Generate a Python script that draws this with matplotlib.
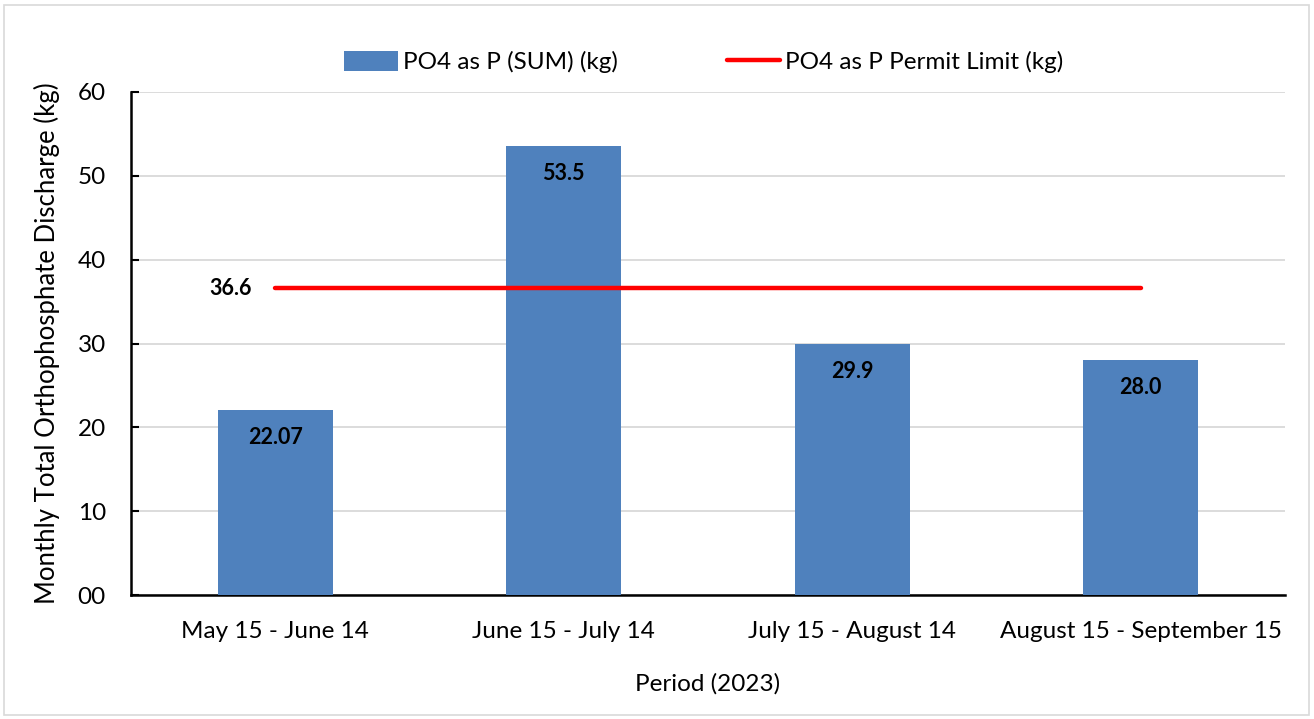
import matplotlib
matplotlib.use("Agg")
import matplotlib.pyplot as plt
from matplotlib.patches import Rectangle
from matplotlib.lines import Line2D
from matplotlib.patches import Patch

# Data
periods = ["May 15 - June 14", "June 15 - July 14", "July 15 - August 14", "August 15 - September 15"]
po4_sum = [22.07, 53.5, 29.9, 28.0]
po4_labels = ["22.07", "53.5", "29.9", "28.0"]
permit_limit = [36.6, 36.6, 36.6, 36.6]
y_ticks = [0, 10, 20, 30, 40, 50, 60]
y_tick_labels = ["00", "10", "20", "30", "40", "50", "60"]

plt.rcParams["font.family"] = ["Lato", "DejaVu Sans"]

W, H, DPI = 1314, 719, 100
fig = plt.figure(figsize=(W / DPI, H / DPI), dpi=DPI)
fig.patch.set_facecolor("white")
fig.add_artist(Rectangle((4 / W, 4 / H), (W - 9) / W, (H - 9) / H, transform=fig.transFigure,
                         fill=False, edgecolor="#d9d9d9", linewidth=1.2))

ax = fig.add_axes([131 / W, 1 - 595 / H, (1285 - 131) / W, (595 - 92) / H])
x = list(range(len(periods)))
bar_color = "#4f81bd"
ax.bar(x, po4_sum, width=0.4, color=bar_color, zorder=3)
ax.plot(x, permit_limit, color="#ff0000", linewidth=3.2, solid_capstyle="round", zorder=4)

for xi, v, lab in zip(x, po4_sum, po4_labels):
    ax.annotate(lab, (xi, v), xytext=(0, -12), textcoords="offset points",
                ha="center", va="top", fontsize=15.5, fontweight="bold", color="black", zorder=5)
ax.annotate("36.6", (x[0], permit_limit[0]), xytext=(-17, 0), textcoords="offset points",
            ha="right", va="center", fontsize=15.5, fontweight="bold", color="black", zorder=5)

ax.set_xlim(-0.5, len(periods) - 0.5)
ax.set_ylim(0, 60)
ax.set_yticks(y_ticks)
ax.set_yticklabels(y_tick_labels, fontsize=17.5)
ax.set_xticks(x)
ax.set_xticklabels(periods, fontsize=17.5)
ax.tick_params(axis="x", length=0, pad=19)
ax.tick_params(axis="y", length=6, width=1.5, direction="in", pad=18)
ax.grid(axis="y", color="#d9d9d9", linewidth=1.3, zorder=0)
for s in ["top", "right"]:
    ax.spines[s].set_visible(False)
for s in ["left", "bottom"]:
    ax.spines[s].set_linewidth(1.8)
    ax.spines[s].set_color("black")

ax.set_ylabel("Monthly Total Orthophosphate Discharge (kg)", fontsize=18.5, labelpad=13)
ax.set_xlabel("Period (2023)", fontsize=17.5, labelpad=22)

handles = [Patch(facecolor=bar_color, edgecolor="none"),
           Line2D([0], [0], color="#ff0000", linewidth=3.2, solid_capstyle="round")]
fig.legend(handles, ["PO4 as P (SUM) (kg)", "PO4 as P Permit Limit (kg)"],
           loc="center", bbox_to_anchor=(704 / W, 1 - 62 / H), ncol=2, frameon=False,
           fontsize=17.5, handlelength=2.2, handleheight=0.9, handletextpad=0.2, columnspacing=4.5)

fig.savefig("out.png", dpi=DPI)
